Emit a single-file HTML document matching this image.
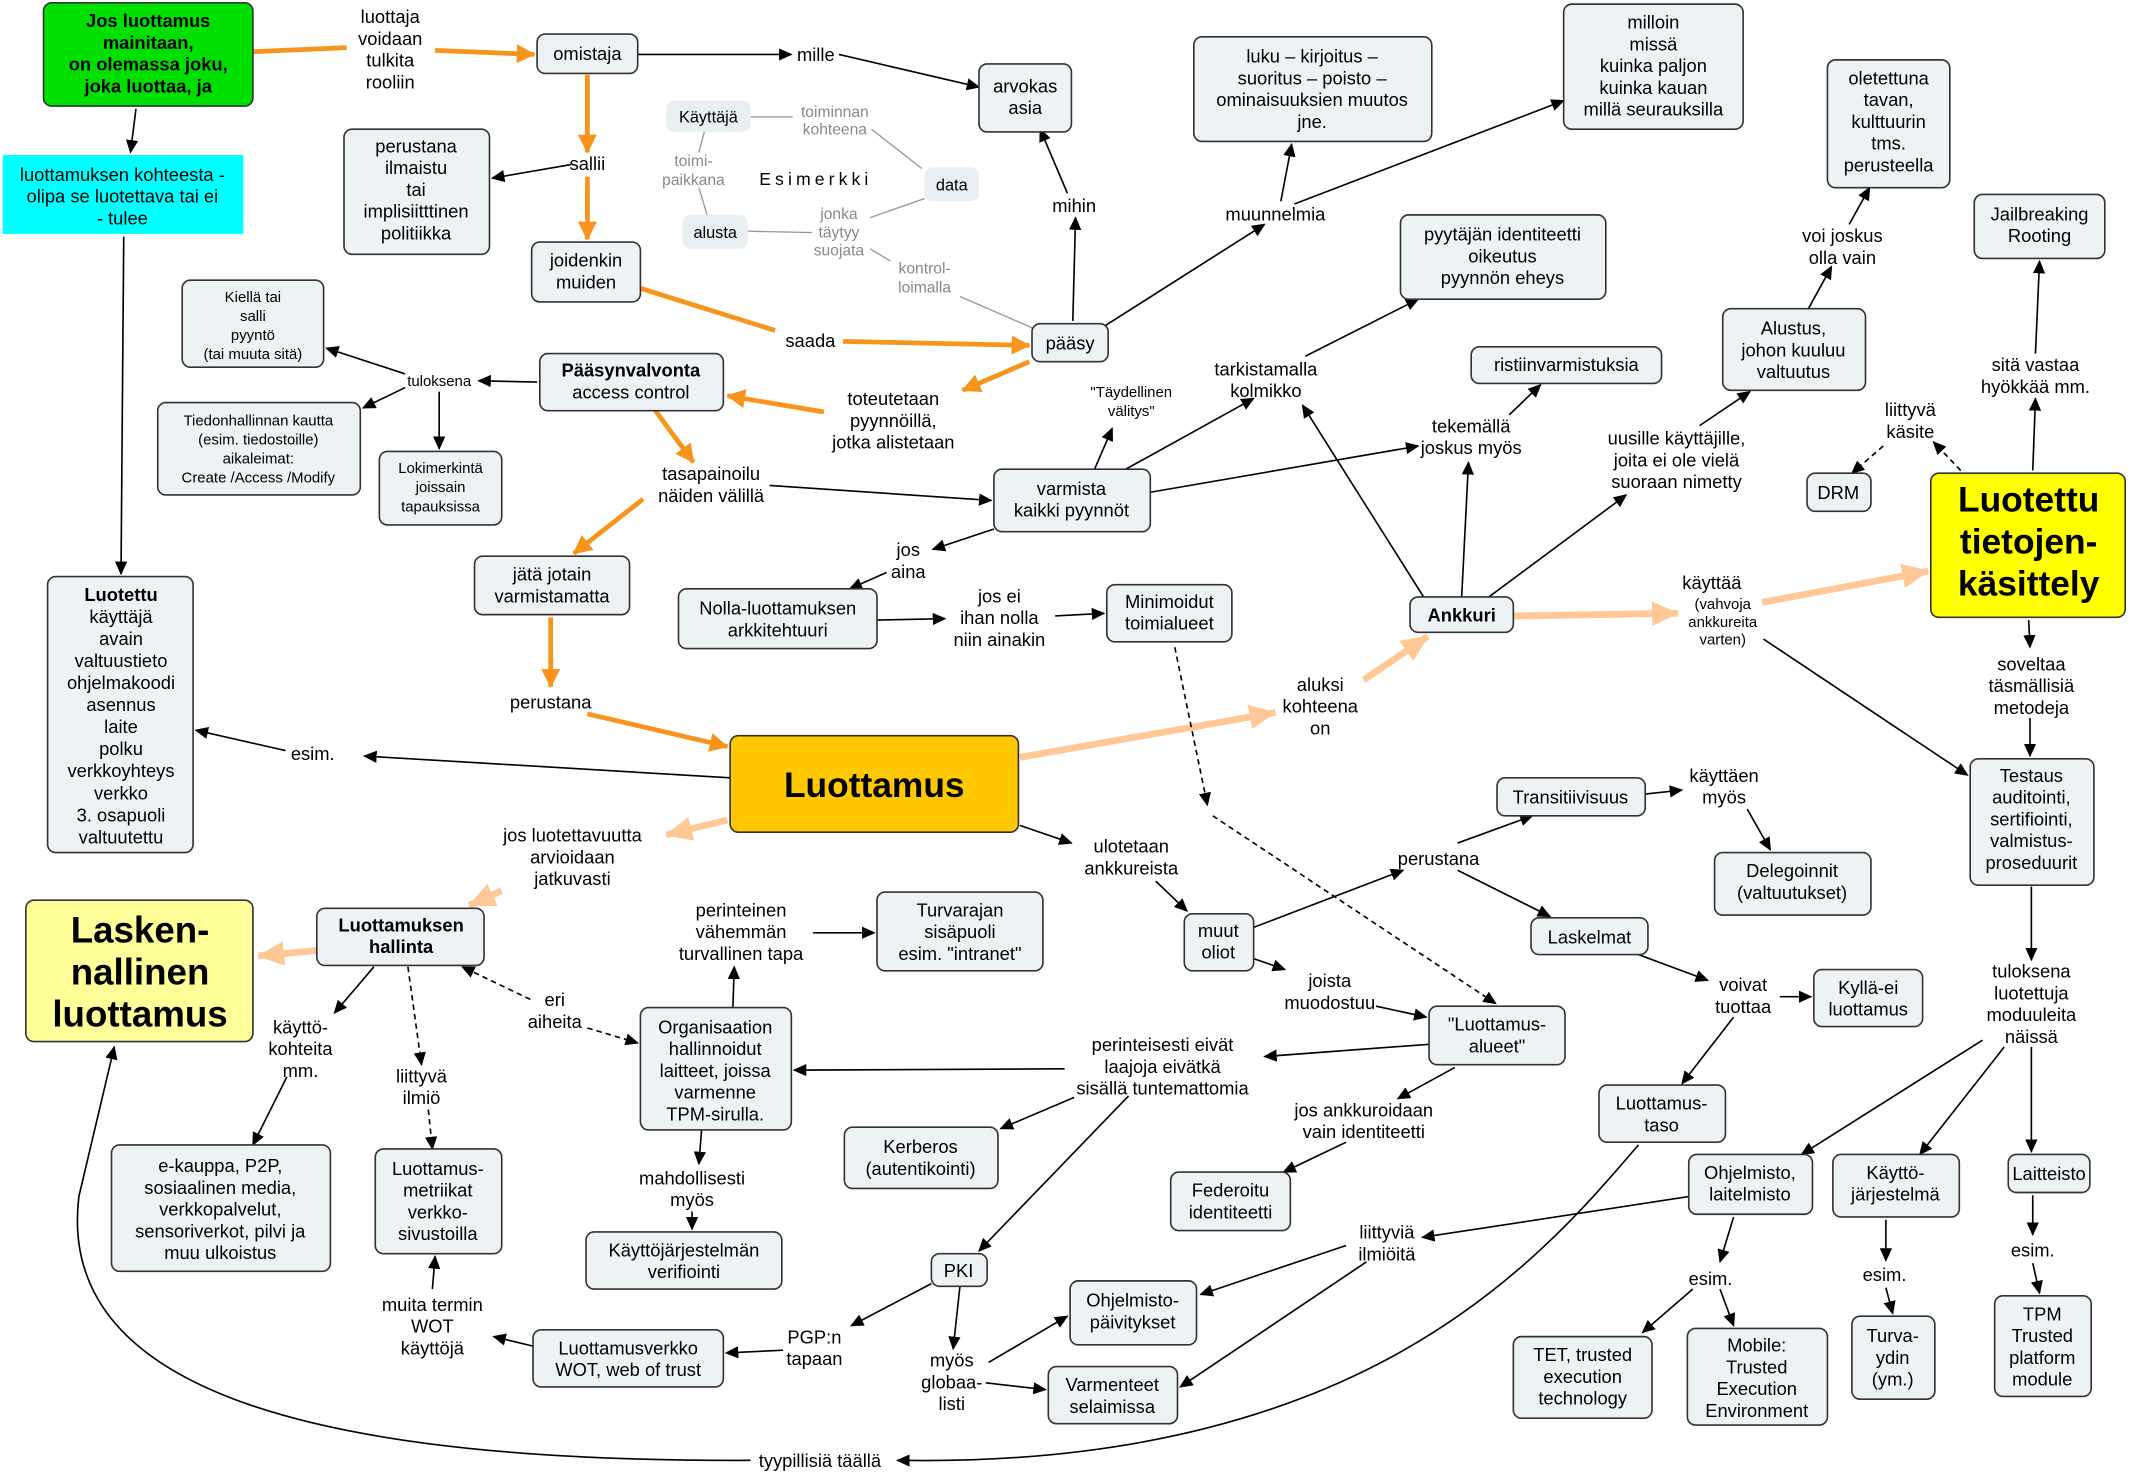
<!DOCTYPE html>
<html><head><meta charset="utf-8"><style>
html,body{margin:0;padding:0;background:#fff}
svg{display:block}
text{font-family:"Liberation Sans","DejaVu Sans",sans-serif;font-size:13.5px;text-anchor:middle;fill:#000}
.s{font-size:11px}
.g{fill:#888;font-size:11.5px}
.bd{font-weight:bold}
.r{fill:#edf3f5;stroke:#333;stroke-width:1.2}
.rg{fill:#e8eff2;stroke:none}
.e{fill:none;stroke:#000;stroke-width:1.2;marker-end:url(#a)}
.n{fill:none;stroke:#000;stroke-width:1.2}
.d{fill:none;stroke:#000;stroke-width:1.2;stroke-dasharray:4 3}
.de{fill:none;stroke:#000;stroke-width:1.2;stroke-dasharray:4 3;marker-end:url(#a)}
.o{fill:none;stroke:#f7941d;stroke-width:3.5;marker-end:url(#ao)}
.on{fill:none;stroke:#f7941d;stroke-width:3.5}
.l{fill:none;stroke:#ffc896;stroke-width:5;marker-end:url(#al)}
.ln{fill:none;stroke:#ffc896;stroke-width:5}
.gl{fill:none;stroke:#999;stroke-width:1}
</style></head><body>
<svg width="2132" height="1474" viewBox="0 0 1568 1084" xmlns="http://www.w3.org/2000/svg">
<defs>
<marker id="a" markerWidth="10" markerHeight="10" refX="9" refY="5" orient="auto" markerUnits="userSpaceOnUse"><path d="M0,0.5 L10,5 L0,9.5z" fill="#000"/></marker>
<marker id="ao" markerWidth="14" markerHeight="14" refX="13" refY="7" orient="auto" markerUnits="userSpaceOnUse"><path d="M0,0 L14,7 L0,14z" fill="#f7941d"/></marker>
<marker id="al" markerWidth="20" markerHeight="18" refX="19" refY="9" orient="auto" markerUnits="userSpaceOnUse"><path d="M0,0 L20,9 L0,18z" fill="#ffc896"/></marker>
</defs>

<path class="on" d="M186,38 L255,35"/><path class="o" d="M320,37 L393,40"/>
<path class="o" d="M432,55 L432,112"/><path class="o" d="M432,130 L432,176"/>
<path class="on" d="M471,212 L570,243"/><path class="o" d="M620,251 L757,254"/>
<path class="o" d="M757,266 L708,287"/><path class="o" d="M606,303 L535,291"/>
<path class="o" d="M482,302 L510,340"/><path class="o" d="M473,367 L422,407"/>
<path class="o" d="M405,454 L405,505"/><path class="o" d="M432,525 L535,549"/>
<path class="l" d="M750,557 L938,524"/><path class="l" d="M1003,500 L1050,468"/>
<path class="l" d="M1113,453 L1234,451"/><path class="l" d="M1296,443 L1418,420"/>
<path class="l" d="M535,603 L490,614"/><path class="l" d="M369,655 L345,666"/>
<path class="l" d="M233,699 L190,703"/>

<path class="e" d="M100,80 L96,112"/><path class="e" d="M91,174 L89,422"/>
<path class="e" d="M469,40 L582,40"/><path class="e" d="M617,40 L720,64"/>
<path class="e" d="M785,142 L765,95"/><path class="e" d="M789,236 L791,160"/>
<path class="e" d="M812,240 L930,165"/><path class="e" d="M942,148 L950,106"/>
<path class="e" d="M952,150 L1150,74"/><path class="e" d="M420,121 L362,131"/>
<path class="e" d="M960,262 L1043,220"/><path class="e" d="M828,345 L922,293"/>
<path class="e" d="M805,345 L818,315"/><path class="e" d="M846,362 L1043,328"/>
<path class="e" d="M1110,305 L1133,283"/><path class="e" d="M1047,439 L958,298"/>
<path class="e" d="M1075,439 L1080,340"/><path class="e" d="M1095,439 L1196,364"/>
<path class="e" d="M1250,313 L1287,288"/><path class="e" d="M1330,227 L1347,196"/>
<path class="e" d="M1360,165 L1375,138"/><path class="e" d="M1495,346 L1497,293"/>
<path class="e" d="M1497,260 L1500,192"/>
<path class="de" d="M1442,346 L1422,325"/><path class="de" d="M1385,328 L1362,348"/>
<path class="e" d="M1492,456 L1493,476"/><path class="e" d="M1493,528 L1493,556"/>
<path class="e" d="M1297,470 L1447,570"/><path class="e" d="M1494,652 L1494,706"/>
<path class="e" d="M1458,765 L1325,849"/><path class="e" d="M1474,770 L1412,849"/>
<path class="e" d="M1494,770 L1494,847"/>
<path class="e" d="M395,281 L352,280"/><path class="e" d="M298,275 L240,256"/>
<path class="e" d="M298,285 L267,300"/><path class="e" d="M323,288 L323,330"/>
<path class="e" d="M566,357 L729,368"/><path class="e" d="M731,389 L686,404"/>
<path class="e" d="M652,421 L625,433"/><path class="e" d="M645,456 L695,455"/>
<path class="e" d="M776,453 L812,451"/>
<path class="de" d="M864,476 L888,592"/><path class="de" d="M892,600 L1100,738"/>
<path class="e" d="M537,572 L268,556"/><path class="e" d="M210,552 L144,537"/>
<path class="e" d="M750,607 L788,620"/><path class="e" d="M850,648 L873,670"/>
<path class="e" d="M922,682 L1032,640"/><path class="e" d="M1072,620 L1127,600"/>
<path class="e" d="M1072,640 L1140,674"/><path class="e" d="M1210,584 L1237,581"/>
<path class="e" d="M1285,595 L1302,625"/><path class="e" d="M1205,702 L1256,721"/>
<path class="e" d="M1309,733 L1332,733"/><path class="e" d="M1275,748 L1237,797"/>
<path class="e" d="M922,705 L945,713"/><path class="e" d="M1012,740 L1049,748"/>
<path class="e" d="M1051,768 L930,777"/><path class="e" d="M783,786 L584,787"/>
<path class="e" d="M1070,785 L1028,808"/><path class="e" d="M990,840 L944,862"/>
<path class="e" d="M790,807 L736,830"/><path class="e" d="M830,806 L720,920"/>
<path class="e" d="M539,741 L540,711"/><path class="e" d="M598,686 L643,686"/>
<path class="e" d="M516,831 L514,856"/><path class="e" d="M509,891 L509,904"/>
<path class="de" d="M432,756 L469,767"/><path class="de" d="M390,735 L340,711"/>
<path class="e" d="M275,711 L246,745"/><path class="e" d="M211,792 L186,842"/>
<path class="de" d="M300,711 L310,783"/><path class="de" d="M315,816 L318,845"/>
<path class="e" d="M318,948 L320,924"/><path class="e" d="M392,990 L363,983"/>
<path class="e" d="M576,993 L534,995"/><path class="e" d="M685,944 L626,975"/>
<path class="e" d="M706,946 L701,992"/><path class="e" d="M727,1002 L785,968"/>
<path class="e" d="M725,1017 L769,1022"/><path class="e" d="M1242,880 L1046,910"/>
<path class="e" d="M990,916 L883,952"/><path class="e" d="M1005,928 L868,1020"/>
<path class="e" d="M1275,895 L1265,928"/><path class="e" d="M1245,948 L1208,980"/>
<path class="e" d="M1265,948 L1275,975"/><path class="e" d="M1387,897 L1387,927"/>
<path class="e" d="M1387,947 L1392,966"/><path class="e" d="M1495,879 L1495,908"/>
<path class="e" d="M1495,929 L1500,951"/>
<path class="e" d="M1205,842 C1130,930 1000,1080 660,1074"/>
<path class="e" d="M552,1074 C250,1075 40,1030 58,880 L84,770"/>

<path class="gl" d="M552,86 L583,86"/><path class="gl" d="M641,95 L678,124"/>
<path class="gl" d="M518,97 L514,112"/><path class="gl" d="M514,138 L520,158"/>
<path class="gl" d="M550,170 L597,171"/><path class="gl" d="M640,160 L680,146"/>
<path class="gl" d="M640,183 L655,192"/><path class="gl" d="M706,218 L759,241"/>

<rect x="32" y="2" width="154" height="76" rx="6" fill="#00e000" stroke="#333" stroke-width="1.2"/>
<text class="bd" y="20"><tspan x="109">Jos luottamus</tspan><tspan x="109" dy="16">mainitaan,</tspan><tspan x="109" dy="16">on olemassa joku,</tspan><tspan x="109" dy="16">joka luottaa, ja</tspan></text>
<rect x="2" y="114" width="177" height="58" fill="#00ffff"/>
<text y="133"><tspan x="90">luottamuksen kohteesta -</tspan><tspan x="90" dy="16">olipa se luotettava tai ei</tspan><tspan x="90" dy="16">- tulee</tspan></text>
<text y="17"><tspan x="287">luottaja</tspan><tspan x="287" dy="16">voidaan</tspan><tspan x="287" dy="16">tulkita</tspan><tspan x="287" dy="16">rooliin</tspan></text>
<rect class="r" x="395" y="25" width="74" height="29" rx="6"/><text x="432" y="44">omistaja</text>
<text x="600" y="45">mille</text>
<rect class="r" x="720" y="47" width="68" height="50" rx="6"/><text y="68"><tspan x="754">arvokas</tspan><tspan x="754" dy="16">asia</tspan></text>
<rect class="r" x="878" y="27" width="175" height="77" rx="6"/><text y="46"><tspan x="965">luku – kirjoitus –</tspan><tspan x="965" dy="16">suoritus – poisto –</tspan><tspan x="965" dy="16">ominaisuuksien muutos</tspan><tspan x="965" dy="16">jne.</tspan></text>
<rect class="r" x="1150" y="3" width="132" height="92" rx="6"/><text y="21"><tspan x="1216">milloin</tspan><tspan x="1216" dy="16">missä</tspan><tspan x="1216" dy="16">kuinka paljon</tspan><tspan x="1216" dy="16">kuinka kauan</tspan><tspan x="1216" dy="16">millä seurauksilla</tspan></text>
<rect class="r" x="1344" y="44" width="90" height="94" rx="6"/><text y="62"><tspan x="1389">oletettuna</tspan><tspan x="1389" dy="16">tavan,</tspan><tspan x="1389" dy="16">kulttuurin</tspan><tspan x="1389" dy="16">tms.</tspan><tspan x="1389" dy="16">perusteella</tspan></text>
<rect class="r" x="1452" y="143" width="96" height="47" rx="6"/><text y="162"><tspan x="1500">Jailbreaking</tspan><tspan x="1500" dy="16">Rooting</tspan></text>

<rect class="rg" x="490" y="74" width="62" height="23" rx="6"/><text x="521" y="90" style="font-size:12px">Käyttäjä</text>
<rect class="rg" x="680" y="123" width="40" height="25" rx="6"/><text x="700" y="140" style="font-size:12px">data</text>
<rect class="rg" x="502" y="158" width="48" height="25" rx="6"/><text x="526" y="175" style="font-size:12px">alusta</text>
<text class="g" y="86"><tspan x="614">toiminnan</tspan><tspan x="614" dy="13">kohteena</tspan></text>
<text class="g" y="122"><tspan x="510">toimi-</tspan><tspan x="510" dy="14">paikkana</tspan></text>
<text x="600" y="136" style="font-size:13px;letter-spacing:3px">Esimerkki</text>
<text class="g" y="161"><tspan x="617">jonka</tspan><tspan x="617" dy="13.5">täytyy</tspan><tspan x="617" dy="13.5">suojata</tspan></text>
<text class="g" y="201"><tspan x="680">kontrol-</tspan><tspan x="680" dy="14">loimalla</tspan></text>

<rect class="r" x="253" y="95" width="107" height="92" rx="6"/><text y="112"><tspan x="306">perustana</tspan><tspan x="306" dy="16">ilmaistu</tspan><tspan x="306" dy="16">tai</tspan><tspan x="306" dy="16">implisiitttinen</tspan><tspan x="306" dy="16">politiikka</tspan></text>
<text x="432" y="125">sallii</text>
<rect class="r" x="391" y="178" width="80" height="44" rx="6"/><text y="196"><tspan x="431">joidenkin</tspan><tspan x="431" dy="16">muiden</tspan></text>
<text x="790" y="156">mihin</text>
<text x="938" y="162">muunnelmia</text>
<rect class="r" x="1030" y="158" width="151" height="62" rx="6"/><text y="177"><tspan x="1105">pyytäjän identiteetti</tspan><tspan x="1105" dy="16">oikeutus</tspan><tspan x="1105" dy="16">pyynnön eheys</tspan></text>
<rect class="r" x="1082" y="255" width="140" height="27" rx="6"/><text x="1152" y="273">ristiinvarmistuksia</text>
<text y="178"><tspan x="1355">voi joskus</tspan><tspan x="1355" dy="16">olla vain</tspan></text>
<rect class="r" x="1267" y="227" width="105" height="60" rx="6"/><text y="246"><tspan x="1319">Alustus,</tspan><tspan x="1319" dy="16">johon kuuluu</tspan><tspan x="1319" dy="16">valtuutus</tspan></text>
<text y="273"><tspan x="1497">sitä vastaa</tspan><tspan x="1497" dy="16">hyökkää mm.</tspan></text>
<text y="306"><tspan x="1405">liittyvä</tspan><tspan x="1405" dy="16">käsite</tspan></text>
<rect class="r" x="1329" y="348" width="47" height="28" rx="6"/><text x="1352" y="367">DRM</text>
<rect x="1420" y="348" width="143" height="106" rx="6" fill="#ffff00" stroke="#333" stroke-width="1.2"/>
<text class="bd" y="376" style="font-size:26px"><tspan x="1492">Luotettu</tspan><tspan x="1492" dy="31">tietojen-</tspan><tspan x="1492" dy="31">käsittely</tspan></text>

<rect class="r" x="134" y="206" width="104" height="64" rx="6"/><text class="s" y="222"><tspan x="186">Kiellä tai</tspan><tspan x="186" dy="14">salli</tspan><tspan x="186" dy="14">pyyntö</tspan><tspan x="186" dy="14">(tai muuta sitä)</tspan></text>
<text class="s" x="323" y="284">tuloksena</text>
<rect class="r" x="397" y="260" width="135" height="42" rx="6"/><text y="277"><tspan x="464" class="bd">Pääsynvalvonta</tspan><tspan x="464" dy="16">access control</tspan></text>
<text x="596" y="255">saada</text>
<rect class="r" x="759" y="238" width="56" height="28" rx="6"/><text x="787" y="257">pääsy</text>
<text y="298"><tspan x="657">toteutetaan</tspan><tspan x="657" dy="16">pyynnöillä,</tspan><tspan x="657" dy="16">jotka alistetaan</tspan></text>
<text class="s" y="292"><tspan x="832">"Täydellinen</tspan><tspan x="832" dy="14">välitys"</tspan></text>
<text y="276"><tspan x="931">tarkistamalla</tspan><tspan x="931" dy="16">kolmikko</tspan></text>
<text y="318"><tspan x="1082">tekemällä</tspan><tspan x="1082" dy="16">joskus myös</tspan></text>
<text y="327"><tspan x="1233">uusille käyttäjille,</tspan><tspan x="1233" dy="16">joita ei ole vielä</tspan><tspan x="1233" dy="16">suoraan nimetty</tspan></text>
<rect class="r" x="116" y="296" width="149" height="68" rx="6"/><text class="s" y="313"><tspan x="190">Tiedonhallinnan kautta</tspan><tspan x="190" dy="14">(esim. tiedostoille)</tspan><tspan x="190" dy="14">aikaleimat:</tspan><tspan x="190" dy="14">Create /Access /Modify</tspan></text>
<rect class="r" x="279" y="332" width="90" height="54" rx="6"/><text class="s" y="348"><tspan x="324">Lokimerkintä</tspan><tspan x="324" dy="14">joissain</tspan><tspan x="324" dy="14">tapauksissa</tspan></text>
<text y="353"><tspan x="523">tasapainoilu</tspan><tspan x="523" dy="16">näiden välillä</tspan></text>
<rect class="r" x="731" y="345" width="115" height="46" rx="6"/><text y="364"><tspan x="788">varmista</tspan><tspan x="788" dy="16">kaikki pyynnöt</tspan></text>
<text y="409"><tspan x="668">jos</tspan><tspan x="668" dy="16">aina</tspan></text>
<rect class="r" x="349" y="409" width="114" height="43" rx="6"/><text y="427"><tspan x="406">jätä jotain</tspan><tspan x="406" dy="16">varmistamatta</tspan></text>
<rect class="r" x="499" y="433" width="146" height="44" rx="6"/><text y="452"><tspan x="572">Nolla-luottamuksen</tspan><tspan x="572" dy="16">arkkitehtuuri</tspan></text>
<text y="443"><tspan x="735">jos ei</tspan><tspan x="735" dy="16">ihan nolla</tspan><tspan x="735" dy="16">niin ainakin</tspan></text>
<rect class="r" x="814" y="430" width="92" height="42" rx="6"/><text y="447"><tspan x="860">Minimoidut</tspan><tspan x="860" dy="16">toimialueet</tspan></text>
<rect class="r" x="1037" y="439" width="76" height="26" rx="6"/><text class="bd" x="1075" y="457">Ankkuri</text>
<text y="433"><tspan x="1259">käyttää</tspan></text>
<text class="s" y="448"><tspan x="1267">(vahvoja</tspan><tspan x="1267" dy="13">ankkureita</tspan><tspan x="1267" dy="13">varten)</tspan></text>
<text y="493"><tspan x="1494">soveltaa</tspan><tspan x="1494" dy="16">täsmällisiä</tspan><tspan x="1494" dy="16">metodeja</tspan></text>
<rect class="r" x="35" y="424" width="107" height="203" rx="6"/>
<text y="442"><tspan x="89" class="bd">Luotettu</tspan><tspan x="89" dy="16.2">käyttäjä</tspan><tspan x="89" dy="16.2">avain</tspan><tspan x="89" dy="16.2">valtuustieto</tspan><tspan x="89" dy="16.2">ohjelmakoodi</tspan><tspan x="89" dy="16.2">asennus</tspan><tspan x="89" dy="16.2">laite</tspan><tspan x="89" dy="16.2">polku</tspan><tspan x="89" dy="16.2">verkkoyhteys</tspan><tspan x="89" dy="16.2">verkko</tspan><tspan x="89" dy="16.2">3. osapuoli</tspan><tspan x="89" dy="16.2">valtuutettu</tspan></text>
<text x="230" y="559">esim.</text>
<text x="405" y="521">perustana</text>
<text y="508"><tspan x="971">aluksi</tspan><tspan x="971" dy="16">kohteena</tspan><tspan x="971" dy="16">on</tspan></text>
<rect x="537" y="541" width="212" height="71" rx="6" fill="#ffc800" stroke="#333" stroke-width="1.2"/>
<text class="bd" x="643" y="586" style="font-size:26px">Luottamus</text>
<rect class="r" x="1449" y="558" width="91" height="93" rx="6"/><text y="575"><tspan x="1494">Testaus</tspan><tspan x="1494" dy="16">auditointi,</tspan><tspan x="1494" dy="16">sertifiointi,</tspan><tspan x="1494" dy="16">valmistus-</tspan><tspan x="1494" dy="16">proseduurit</tspan></text>
<text y="619"><tspan x="421">jos luotettavuutta</tspan><tspan x="421" dy="16">arvioidaan</tspan><tspan x="421" dy="16">jatkuvasti</tspan></text>
<text y="627"><tspan x="832">ulotetaan</tspan><tspan x="832" dy="16">ankkureista</tspan></text>
<rect class="r" x="1101" y="572" width="109" height="28" rx="6"/><text x="1155" y="591">Transitiivisuus</text>
<text y="575"><tspan x="1268">käyttäen</tspan><tspan x="1268" dy="16">myös</tspan></text>
<text x="1058" y="636">perustana</text>
<rect class="r" x="1261" y="627" width="115" height="46" rx="6"/><text y="645"><tspan x="1318">Delegoinnit</tspan><tspan x="1318" dy="16">(valtuutukset)</tspan></text>
<rect x="19" y="662" width="167" height="104" rx="6" fill="#ffff99" stroke="#333" stroke-width="1.2"/>
<text class="bd" y="693" style="font-size:27px"><tspan x="103">Lasken-</tspan><tspan x="103" dy="31">nallinen</tspan><tspan x="103" dy="31">luottamus</tspan></text>
<rect class="r" x="233" y="668" width="123" height="42" rx="6"/><text class="bd" y="685"><tspan x="295">Luottamuksen</tspan><tspan x="295" dy="16">hallinta</tspan></text>
<text y="674"><tspan x="545">perinteinen</tspan><tspan x="545" dy="16">vähemmän</tspan><tspan x="545" dy="16">turvallinen tapa</tspan></text>
<rect class="r" x="645" y="656" width="122" height="58" rx="6"/><text y="674"><tspan x="706">Turvarajan</tspan><tspan x="706" dy="16">sisäpuoli</tspan><tspan x="706" dy="16">esim. "intranet"</tspan></text>
<rect class="r" x="871" y="672" width="51" height="42" rx="6"/><text y="689"><tspan x="896">muut</tspan><tspan x="896" dy="16">oliot</tspan></text>
<rect class="r" x="1126" y="675" width="86" height="27" rx="6"/><text x="1169" y="694">Laskelmat</text>
<text y="729"><tspan x="1282">voivat</tspan><tspan x="1282" dy="16">tuottaa</tspan></text>
<rect class="r" x="1334" y="713" width="80" height="42" rx="6"/><text y="731"><tspan x="1374">Kyllä-ei</tspan><tspan x="1374" dy="16">luottamus</tspan></text>
<text y="719"><tspan x="1494">tuloksena</tspan><tspan x="1494" dy="16">luotettuja</tspan><tspan x="1494" dy="16">moduuleita</tspan><tspan x="1494" dy="16">näissä</tspan></text>
<text y="740"><tspan x="408">eri</tspan><tspan x="408" dy="16">aiheita</tspan></text>
<text y="760"><tspan x="221">käyttö-</tspan><tspan x="221" dy="16">kohteita</tspan><tspan x="221" dy="16">mm.</tspan></text>
<rect class="r" x="471" y="741" width="111" height="90" rx="6"/><text y="760"><tspan x="526">Organisaation</tspan><tspan x="526" dy="16">hallinnoidut</tspan><tspan x="526" dy="16">laitteet, joissa</tspan><tspan x="526" dy="16">varmenne</tspan><tspan x="526" dy="16">TPM-sirulla.</tspan></text>
<text y="726"><tspan x="978">joista</tspan><tspan x="978" dy="16">muodostuu</tspan></text>
<rect class="r" x="1051" y="740" width="100" height="43" rx="6"/><text y="758"><tspan x="1101">"Luottamus-</tspan><tspan x="1101" dy="16">alueet"</tspan></text>
<text y="773"><tspan x="855">perinteisesti eivät</tspan><tspan x="855" dy="16">laajoja eivätkä</tspan><tspan x="855" dy="16">sisällä tuntemattomia</tspan></text>
<text y="796"><tspan x="310">liittyvä</tspan><tspan x="310" dy="16">ilmiö</tspan></text>
<rect class="r" x="621" y="829" width="113" height="45" rx="6"/><text y="848"><tspan x="677">Kerberos</tspan><tspan x="677" dy="16">(autentikointi)</tspan></text>
<text y="821"><tspan x="1003">jos ankkuroidaan</tspan><tspan x="1003" dy="16">vain identiteetti</tspan></text>
<rect class="r" x="1176" y="798" width="93" height="42" rx="6"/><text y="816"><tspan x="1222">Luottamus-</tspan><tspan x="1222" dy="16">taso</tspan></text>
<rect class="r" x="82" y="842" width="161" height="93" rx="6"/><text y="862"><tspan x="162">e-kauppa, P2P,</tspan><tspan x="162" dy="16">sosiaalinen media,</tspan><tspan x="162" dy="16">verkkopalvelut,</tspan><tspan x="162" dy="16">sensoriverkot, pilvi ja</tspan><tspan x="162" dy="16">muu ulkoistus</tspan></text>
<rect class="r" x="276" y="845" width="93" height="77" rx="6"/><text y="864"><tspan x="322">Luottamus-</tspan><tspan x="322" dy="16">metriikat</tspan><tspan x="322" dy="16">verkko-</tspan><tspan x="322" dy="16">sivustoilla</tspan></text>
<text y="871"><tspan x="509">mahdollisesti</tspan><tspan x="509" dy="16">myös</tspan></text>
<rect class="r" x="1242" y="849" width="91" height="44" rx="6"/><text y="867"><tspan x="1287">Ohjelmisto,</tspan><tspan x="1287" dy="16">laitelmisto</tspan></text>
<rect class="r" x="1348" y="849" width="93" height="46" rx="6"/><text y="867"><tspan x="1394">Käyttö-</tspan><tspan x="1394" dy="16">järjestelmä</tspan></text>
<rect class="r" x="1477" y="849" width="60" height="28" rx="6"/><text x="1507" y="868">Laitteisto</text>
<rect class="r" x="861" y="862" width="88" height="43" rx="6"/><text y="880"><tspan x="905">Federoitu</tspan><tspan x="905" dy="16">identiteetti</tspan></text>
<text y="911"><tspan x="1020">liittyviä</tspan><tspan x="1020" dy="16">ilmiöitä</tspan></text>
<rect class="r" x="431" y="906" width="144" height="42" rx="6"/><text y="924"><tspan x="503">Käyttöjärjestelmän</tspan><tspan x="503" dy="16">verifiointi</tspan></text>
<rect class="r" x="685" y="922" width="41" height="24" rx="6"/><text x="705" y="939">PKI</text>
<rect class="r" x="787" y="942" width="93" height="47" rx="6"/><text y="961"><tspan x="833">Ohjelmisto-</tspan><tspan x="833" dy="16">päivitykset</tspan></text>
<text x="1258" y="945">esim.</text><text x="1386" y="942">esim.</text><text x="1495" y="924">esim.</text>
<text y="964"><tspan x="318">muita termin</tspan><tspan x="318" dy="16">WOT</tspan><tspan x="318" dy="16">käyttöjä</tspan></text>
<rect class="r" x="392" y="978" width="140" height="42" rx="6"/><text y="996"><tspan x="462">Luottamusverkko</tspan><tspan x="462" dy="16">WOT, web of trust</tspan></text>
<text y="988"><tspan x="599">PGP:n</tspan><tspan x="599" dy="16">tapaan</tspan></text>
<text y="1005"><tspan x="700">myös</tspan><tspan x="700" dy="16">globaa-</tspan><tspan x="700" dy="16">listi</tspan></text>
<rect class="r" x="771" y="1005" width="95" height="42" rx="6"/><text y="1023"><tspan x="818">Varmenteet</tspan><tspan x="818" dy="16">selaimissa</tspan></text>
<rect class="r" x="1113" y="983" width="102" height="60" rx="6"/><text y="1001"><tspan x="1164">TET, trusted</tspan><tspan x="1164" dy="16">execution</tspan><tspan x="1164" dy="16">technology</tspan></text>
<rect class="r" x="1241" y="977" width="103" height="71" rx="6"/><text y="994"><tspan x="1292">Mobile:</tspan><tspan x="1292" dy="16">Trusted</tspan><tspan x="1292" dy="16">Execution</tspan><tspan x="1292" dy="16">Environment</tspan></text>
<rect class="r" x="1362" y="968" width="61" height="61" rx="6"/><text y="987"><tspan x="1392">Turva-</tspan><tspan x="1392" dy="16">ydin</tspan><tspan x="1392" dy="16">(ym.)</tspan></text>
<rect class="r" x="1467" y="953" width="71" height="74" rx="6"/><text y="971"><tspan x="1502">TPM</tspan><tspan x="1502" dy="16">Trusted</tspan><tspan x="1502" dy="16">platform</tspan><tspan x="1502" dy="16">module</tspan></text>
<text x="603" y="1079">tyypillisiä täällä</text>
</svg>
</body></html>
